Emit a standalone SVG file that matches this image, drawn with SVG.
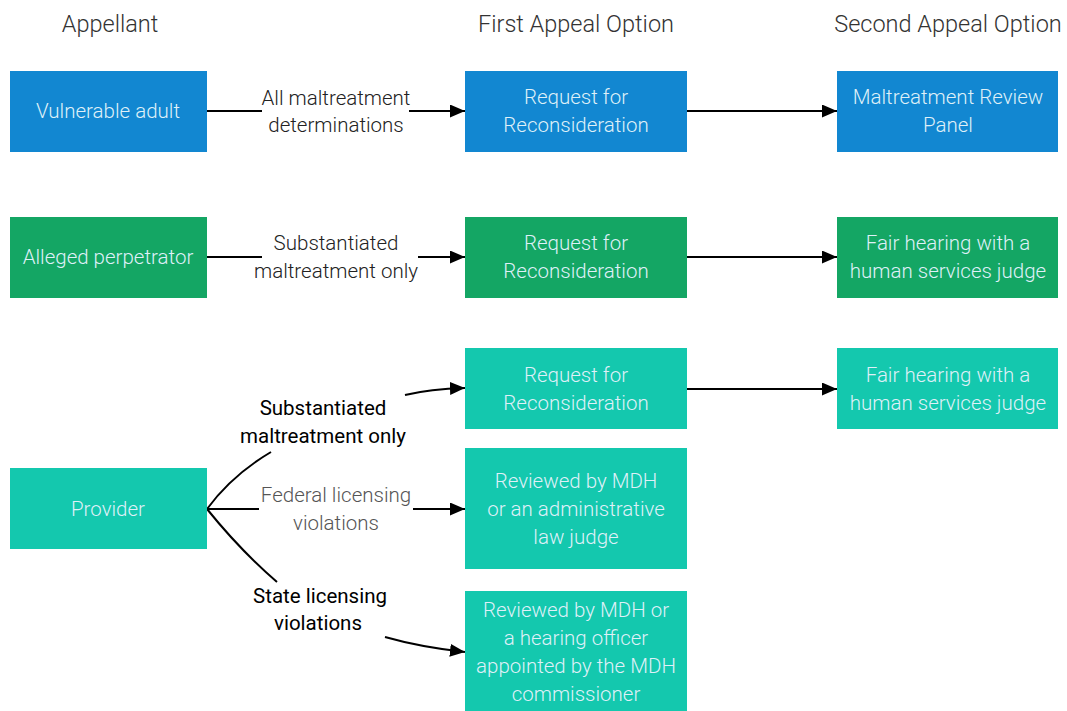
<svg xmlns="http://www.w3.org/2000/svg" width="1067" height="711" viewBox="0 0 1067 711">
<style>
.hdr{font-family:Roboto,"Liberation Sans",Arial,sans-serif;font-weight:300;font-size:23.5px;fill:#333;text-anchor:middle}
.bt{font-family:Roboto,"Liberation Sans",Arial,sans-serif;font-weight:300;font-size:20.5px;fill:#dff0f8;text-anchor:middle}
.lb{font-family:Roboto,"Liberation Sans",Arial,sans-serif;font-weight:300;font-size:20.5px;fill:#222;text-anchor:middle}
.lbg{font-family:Roboto,"Liberation Sans",Arial,sans-serif;font-weight:300;font-size:20.5px;fill:#555;text-anchor:middle}
.lbk{font-family:Roboto,"Liberation Sans",Arial,sans-serif;font-weight:400;font-size:20.5px;fill:#000;text-anchor:middle}
.blue{fill:#1287d1}.green{fill:#14a664}.teal{fill:#14c8ae}
.ln{stroke:#000;stroke-width:2;fill:none}
</style>
<defs>
<marker id="ah" viewBox="0 0 10 10" refX="10" refY="5" markerWidth="7.5" markerHeight="6.5" markerUnits="strokeWidth" orient="auto" preserveAspectRatio="none">
<path d="M0,0 L10,5 L0,10 z" fill="#000"/>
</marker>
</defs>
<rect width="1067" height="711" fill="#fff"/>
<g id="headers">
<text class="hdr" x="110" y="32">Appellant</text>
<text class="hdr" x="576" y="32">First Appeal Option</text>
<text class="hdr" x="948" y="32">Second Appeal Option</text>
</g>
<g id="connectors">
<line class="ln" x1="207" y1="111" x2="262" y2="111"/>
<line class="ln" x1="409" y1="111" x2="465" y2="111" marker-end="url(#ah)"/>
<line class="ln" x1="687" y1="111" x2="837" y2="111" marker-end="url(#ah)"/>
<line class="ln" x1="207" y1="257" x2="262" y2="257"/>
<line class="ln" x1="418" y1="257" x2="465" y2="257" marker-end="url(#ah)"/>
<line class="ln" x1="687" y1="257" x2="837" y2="257" marker-end="url(#ah)"/>
<line class="ln" x1="687" y1="389" x2="837" y2="389" marker-end="url(#ah)"/>
<path class="ln" d="M207,509 Q232,475 271,452"/>
<path class="ln" d="M405,395 Q430,389 465,388" marker-end="url(#ah)"/>
<line class="ln" x1="207" y1="509" x2="259" y2="509"/>
<line class="ln" x1="413" y1="509" x2="465" y2="509" marker-end="url(#ah)"/>
<path class="ln" d="M207,509 Q240,550 277,582"/>
<path class="ln" d="M385,637 Q420,647 465,652" marker-end="url(#ah)"/>
<text class="lb" x="336" y="105">All maltreatment</text>
<text class="lb" x="336" y="132">determinations</text>
<text class="lb" x="336" y="250">Substantiated</text>
<text class="lb" x="336" y="278">maltreatment only</text>
<text class="lbk" x="323" y="415">Substantiated</text>
<text class="lbk" x="323" y="443">maltreatment only</text>
<text class="lbg" x="336" y="502">Federal licensing</text>
<text class="lbg" x="336" y="530">violations</text>
<text class="lbk" x="320" y="603">State licensing</text>
<text class="lbk" x="318" y="630">violations</text>
</g>
<g id="vulnerable-adult">
<rect class="blue" x="10" y="71" width="197" height="81"/>
<text class="bt" x="108" y="118">Vulnerable adult</text>
</g>
<g id="reconsideration-1">
<rect class="blue" x="465" y="71" width="222" height="81"/>
<text class="bt" x="576" y="104">Request for</text>
<text class="bt" x="576" y="132">Reconsideration</text>
</g>
<g id="review-panel">
<rect class="blue" x="837" y="71" width="221" height="81"/>
<text class="bt" x="948" y="104">Maltreatment Review</text>
<text class="bt" x="948" y="132">Panel</text>
</g>
<g id="alleged-perpetrator">
<rect class="green" x="10" y="217" width="197" height="81"/>
<text class="bt" x="108" y="264">Alleged perpetrator</text>
</g>
<g id="reconsideration-2">
<rect class="green" x="465" y="217" width="222" height="81"/>
<text class="bt" x="576" y="250">Request for</text>
<text class="bt" x="576" y="278">Reconsideration</text>
</g>
<g id="fair-hearing-2">
<rect class="green" x="837" y="217" width="221" height="81"/>
<text class="bt" x="948" y="250">Fair hearing with a</text>
<text class="bt" x="948" y="278">human services judge</text>
</g>
<g id="reconsideration-3">
<rect class="teal" x="465" y="348" width="222" height="81"/>
<text class="bt" x="576" y="382">Request for</text>
<text class="bt" x="576" y="410">Reconsideration</text>
</g>
<g id="fair-hearing-3">
<rect class="teal" x="837" y="348" width="221" height="81"/>
<text class="bt" x="948" y="382">Fair hearing with a</text>
<text class="bt" x="948" y="410">human services judge</text>
</g>
<g id="provider">
<rect class="teal" x="10" y="468" width="197" height="81"/>
<text class="bt" x="108" y="516">Provider</text>
</g>
<g id="reviewed-mdh-alj">
<rect class="teal" x="465" y="448" width="222" height="121"/>
<text class="bt" x="576" y="488">Reviewed by MDH</text>
<text class="bt" x="576" y="516">or an administrative</text>
<text class="bt" x="576" y="544">law judge</text>
</g>
<g id="reviewed-mdh-officer">
<rect class="teal" x="465" y="591" width="222" height="120"/>
<text class="bt" x="576" y="617">Reviewed by MDH or</text>
<text class="bt" x="576" y="645">a hearing officer</text>
<text class="bt" x="576" y="673">appointed by the MDH</text>
<text class="bt" x="576" y="701">commissioner</text>
</g>
</svg>
